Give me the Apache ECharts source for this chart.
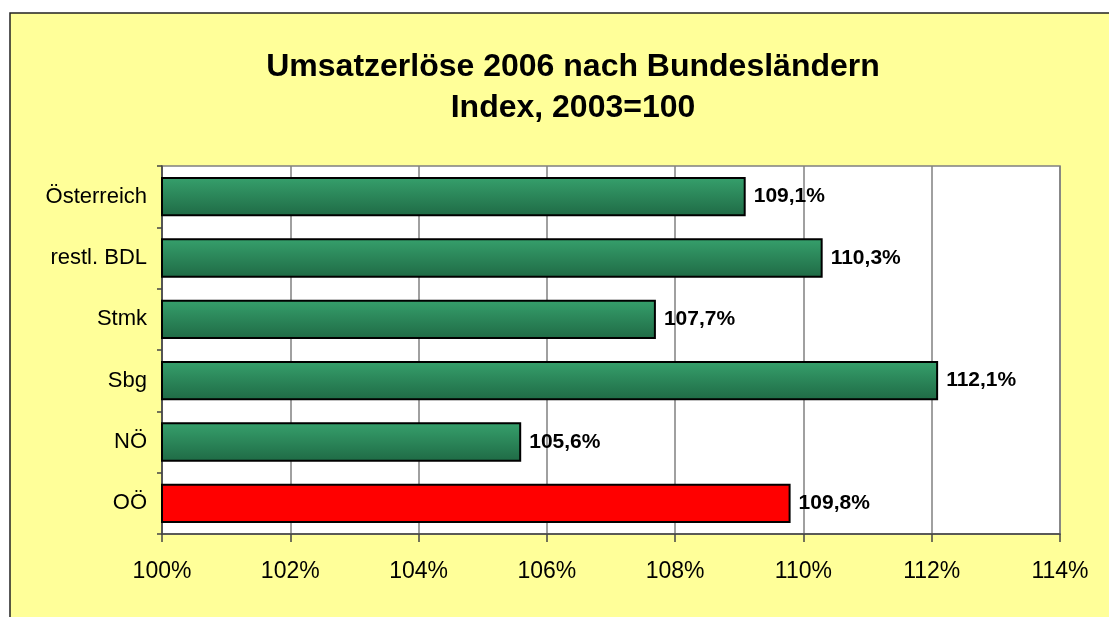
<!DOCTYPE html>
<html>
<head>
<meta charset="utf-8">
<script src="https://cdn.jsdelivr.net/npm/echarts@6/dist/echarts.min.js"></script>
<style>
html,body{margin:0;padding:0;background:#fff;}
#c{width:1109px;height:617px;}
</style>
</head>
<body>
<div id="c"></div>
<script>
const categories = ['Österreich', 'restl. BDL', 'Stmk', 'Sbg', 'NÖ', 'OÖ'];
const values = [109.1, 110.3, 107.7, 112.1, 105.6, 109.8];
const highlight = 'OÖ';
const xTicks = [100, 102, 104, 106, 108, 110, 112, 114];
const titleLines = ['Umsatzerlöse 2006 nach Bundesländern', 'Index, 2003=100'];

const FONT = '"Liberation Sans", Arial, sans-serif';
const greenGrad = new echarts.graphic.LinearGradient(0, 0, 0, 1, [
  {offset: 0, color: '#36a06c'},
  {offset: 1, color: '#1f6a45'}
]);

const chart = echarts.init(document.getElementById('c'), null, {renderer: 'canvas'});
chart.setOption({
  animation: false,
  backgroundColor: '#ffffff',
  graphic: [
    {type: 'rect', shape: {x: 10, y: 13, width: 1120, height: 640}, z: -10,
     style: {fill: '#ffff99', stroke: '#222', lineWidth: 1.5}, silent: true},
    {type: 'rect', shape: {x: 162, y: 166, width: 898, height: 368}, z: -5,
     style: {fill: '#ffffff'}, silent: true}
  ],
  title: {
    text: titleLines.join('\n'),
    left: 568,
    top: 42,
    textAlign: 'center',
    textStyle: {fontFamily: FONT, fontSize: 32, fontWeight: 'bold', color: '#000', lineHeight: 41}
  },
  grid: {left: 162, top: 166, width: 898, height: 368, show: true, borderColor: '#808080', borderWidth: 1.5, backgroundColor: 'transparent'},
  xAxis: {
    type: 'value', min: 100, max: 114, interval: 2,
    axisLine: {show: true, lineStyle: {color: '#444', width: 1.5}},
    axisTick: {show: true, length: 8, lineStyle: {color: '#444', width: 1.5}},
    axisLabel: {fontFamily: FONT, fontSize: 23, color: '#000', margin: 26,
      formatter: v => xTicks.includes(v) ? v + '%' : ''},
    splitLine: {show: true, lineStyle: {color: '#808080', width: 1.5}}
  },
  yAxis: {
    type: 'category', data: categories, inverse: true,
    axisLine: {show: true, lineStyle: {color: '#444', width: 1.5}},
    axisTick: {show: true, length: 5, lineStyle: {color: '#444', width: 1.5}},
    axisLabel: {fontFamily: FONT, fontSize: 22, color: '#000', margin: 15}
  },
  series: [{
    type: 'bar',
    data: values.map((v, i) => ({
      value: v,
      itemStyle: {color: categories[i] === highlight ? '#ff0000' : greenGrad}
    })),
    barCategoryGap: '36%',
    itemStyle: {borderColor: '#000', borderWidth: 2},
    label: {
      show: true, position: 'right', distance: 8,
      fontFamily: FONT, fontSize: 21, fontWeight: 'bold', color: '#000',
      formatter: p => p.value.toFixed(1).replace('.', ',') + '%'
    }
  }]
});
</script>
</body>
</html>
